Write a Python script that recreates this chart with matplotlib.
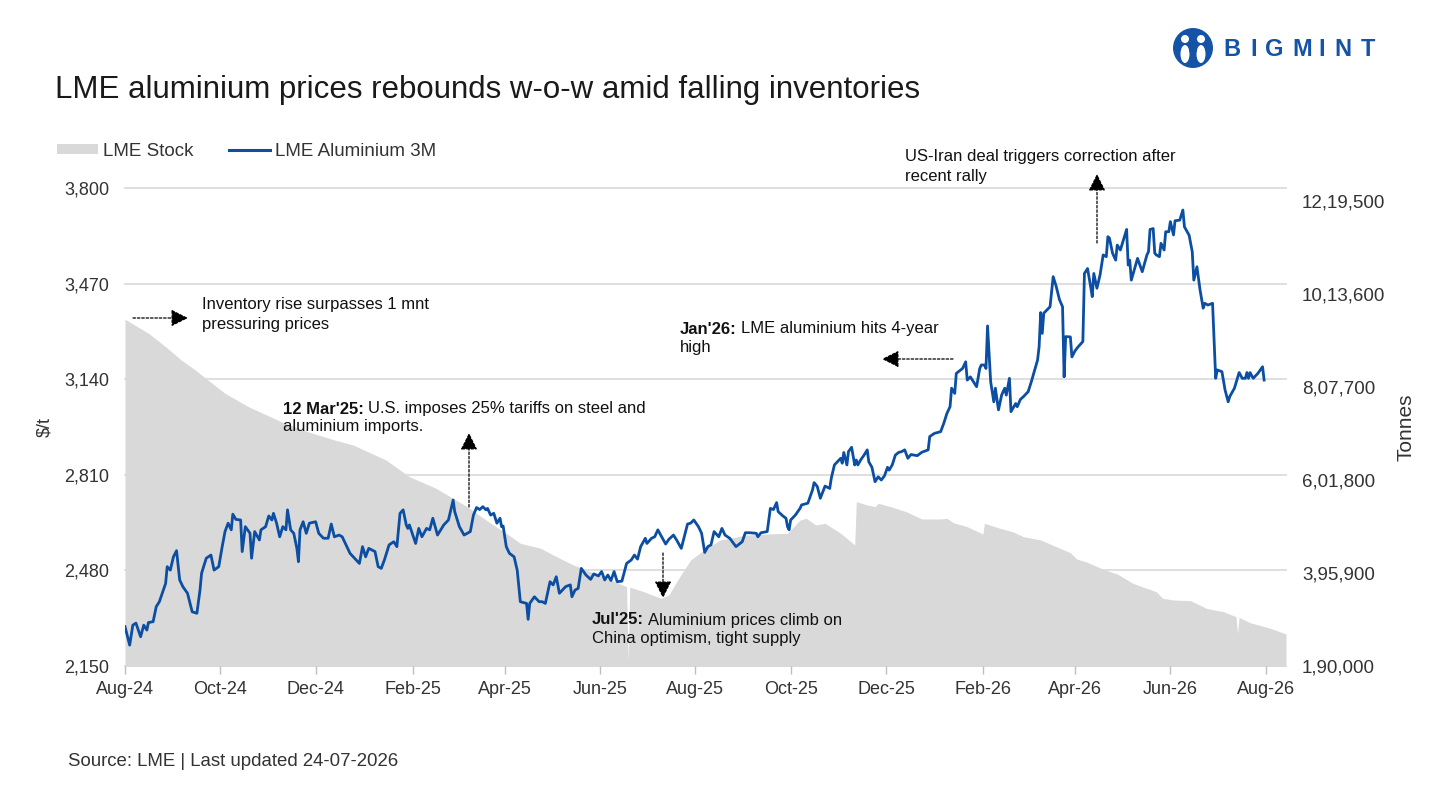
import matplotlib
matplotlib.use("Agg")
import matplotlib.pyplot as plt
import pandas as pd
from matplotlib.patches import Patch, Ellipse, FancyArrowPatch, Polygon
from matplotlib.lines import Line2D
from matplotlib.transforms import blended_transform_factory

plt.rcParams['font.family'] = ['Liberation Sans', 'DejaVu Sans']

# ---------------- data ----------------
price_dates = [
    "2024-08-01", "2024-08-04", "2024-08-06", "2024-08-08", "2024-08-11", "2024-08-13", "2024-08-15", "2024-08-16",
    "2024-08-19", "2024-08-21", "2024-08-23", "2024-08-27", "2024-08-28", "2024-08-30", "2024-09-01", "2024-09-03",
    "2024-09-05", "2024-09-07", "2024-09-10", "2024-09-13", "2024-09-16", "2024-09-18", "2024-09-19", "2024-09-22",
    "2024-09-25", "2024-09-27", "2024-09-30", "2024-10-02", "2024-10-04", "2024-10-06", "2024-10-08", "2024-10-09",
    "2024-10-11", "2024-10-14", "2024-10-15", "2024-10-17", "2024-10-20", "2024-10-21", "2024-10-23", "2024-10-26",
    "2024-10-27", "2024-10-30", "2024-11-01", "2024-11-03", "2024-11-04", "2024-11-06", "2024-11-08", "2024-11-10",
    "2024-11-12", "2024-11-13", "2024-11-15", "2024-11-17", "2024-11-19", "2024-11-20", "2024-11-21", "2024-11-23",
    "2024-11-25", "2024-11-27", "2024-12-01", "2024-12-03", "2024-12-06", "2024-12-09", "2024-12-11", "2024-12-13",
    "2024-12-16", "2024-12-18", "2024-12-23", "2024-12-29", "2024-12-31", "2025-01-02", "2025-01-04", "2025-01-08",
    "2025-01-10", "2025-01-12", "2025-01-14", "2025-01-17", "2025-01-20", "2025-01-22", "2025-01-24", "2025-01-26",
    "2025-01-28", "2025-01-29", "2025-01-30", "2025-02-03", "2025-02-05", "2025-02-07", "2025-02-10", "2025-02-12",
    "2025-02-14", "2025-02-17", "2025-02-21", "2025-02-24", "2025-02-27", "2025-02-28", "2025-03-03", "2025-03-06",
    "2025-03-10", "2025-03-12", "2025-03-14", "2025-03-16", "2025-03-18", "2025-03-20", "2025-03-21", "2025-03-23",
    "2025-03-25", "2025-03-27", "2025-03-29", "2025-03-30", "2025-03-31", "2025-04-02", "2025-04-04", "2025-04-07",
    "2025-04-09", "2025-04-11", "2025-04-13", "2025-04-15", "2025-04-16", "2025-04-17", "2025-04-20", "2025-04-23",
    "2025-04-25", "2025-04-27", "2025-04-30", "2025-05-02", "2025-05-04", "2025-05-06", "2025-05-10", "2025-05-13",
    "2025-05-14", "2025-05-16", "2025-05-18", "2025-05-20", "2025-05-23", "2025-05-26", "2025-05-28", "2025-05-31",
    "2025-06-02", "2025-06-04", "2025-06-06", "2025-06-08", "2025-06-10", "2025-06-12", "2025-06-15", "2025-06-18",
    "2025-06-21", "2025-06-23", "2025-06-25", "2025-06-27", "2025-06-30", "2025-07-01", "2025-07-04", "2025-07-06",
    "2025-07-08", "2025-07-11", "2025-07-13", "2025-07-15", "2025-07-18", "2025-07-20", "2025-07-23", "2025-07-27",
    "2025-07-29", "2025-07-31", "2025-08-03", "2025-08-05", "2025-08-07", "2025-08-09", "2025-08-11", "2025-08-13",
    "2025-08-16", "2025-08-18", "2025-08-20", "2025-08-23", "2025-08-27", "2025-08-31", "2025-09-02", "2025-09-05",
    "2025-09-09", "2025-09-10", "2025-09-12", "2025-09-16", "2025-09-18", "2025-09-20", "2025-09-22", "2025-09-23",
    "2025-09-26", "2025-09-28", "2025-09-29", "2025-09-30", "2025-10-01", "2025-10-04", "2025-10-07", "2025-10-08",
    "2025-10-12", "2025-10-15", "2025-10-16", "2025-10-18", "2025-10-20", "2025-10-23", "2025-10-26", "2025-10-27",
    "2025-10-29", "2025-11-02", "2025-11-03", "2025-11-04", "2025-11-06", "2025-11-07", "2025-11-09", "2025-11-11",
    "2025-11-12", "2025-11-13", "2025-11-15", "2025-11-17", "2025-11-19", "2025-11-20", "2025-11-22", "2025-11-24",
    "2025-11-26", "2025-11-28", "2025-11-30", "2025-12-02", "2025-12-03", "2025-12-05", "2025-12-07", "2025-12-09",
    "2025-12-11", "2025-12-13", "2025-12-15", "2025-12-17", "2025-12-21", "2025-12-24", "2025-12-28", "2025-12-29",
    "2026-01-01", "2026-01-05", "2026-01-07", "2026-01-09", "2026-01-11", "2026-01-12", "2026-01-14", "2026-01-15",
    "2026-01-19", "2026-01-21", "2026-01-22", "2026-01-24", "2026-01-26", "2026-01-28", "2026-01-30", "2026-01-31",
    "2026-02-02", "2026-02-03", "2026-02-04", "2026-02-06", "2026-02-08", "2026-02-09", "2026-02-11", "2026-02-13",
    "2026-02-15", "2026-02-16", "2026-02-18", "2026-02-19", "2026-02-22", "2026-02-23", "2026-02-25", "2026-02-27",
    "2026-03-02", "2026-03-04", "2026-03-08", "2026-03-09", "2026-03-10", "2026-03-11", "2026-03-12", "2026-03-14",
    "2026-03-16", "2026-03-18", "2026-03-20", "2026-03-22", "2026-03-24", "2026-03-25", "2026-03-26", "2026-03-29",
    "2026-03-30", "2026-04-01", "2026-04-03", "2026-04-06", "2026-04-07", "2026-04-09", "2026-04-11", "2026-04-12",
    "2026-04-13", "2026-04-15", "2026-04-17", "2026-04-19", "2026-04-21", "2026-04-22", "2026-04-23", "2026-04-25",
    "2026-04-27", "2026-04-28", "2026-04-30", "2026-05-04", "2026-05-05", "2026-05-06", "2026-05-07", "2026-05-11",
    "2026-05-14", "2026-05-17", "2026-05-18", "2026-05-19", "2026-05-21", "2026-05-22", "2026-05-23", "2026-05-25",
    "2026-05-26", "2026-05-28", "2026-05-29", "2026-05-31", "2026-06-01", "2026-06-03", "2026-06-04", "2026-06-07",
    "2026-06-09", "2026-06-10", "2026-06-13", "2026-06-15", "2026-06-16", "2026-06-18", "2026-06-20", "2026-06-22",
    "2026-06-23", "2026-06-25", "2026-06-28", "2026-06-30", "2026-07-01", "2026-07-04", "2026-07-06", "2026-07-08",
    "2026-07-09", "2026-07-12", "2026-07-15", "2026-07-17", "2026-07-19", "2026-07-20", "2026-07-21", "2026-07-22",
    "2026-07-24", "2026-07-27", "2026-07-30", "2026-07-31",
]
price_values = [
    2286, 2222, 2291, 2298, 2251, 2291, 2274, 2300,
    2303, 2355, 2372, 2435, 2493, 2481, 2527, 2548,
    2447, 2424, 2401, 2337, 2332, 2412, 2470, 2522,
    2533, 2481, 2493, 2556, 2614, 2643, 2620, 2674,
    2656, 2654, 2545, 2631, 2608, 2522, 2614, 2585,
    2620, 2631, 2668, 2654, 2677, 2643, 2596, 2631,
    2620, 2689, 2620, 2608, 2556, 2510, 2620, 2648,
    2608, 2643, 2648, 2608, 2591, 2591, 2640, 2596,
    2602, 2596, 2539, 2504, 2562, 2527, 2556, 2545,
    2493, 2487, 2516, 2568, 2579, 2562, 2677, 2689,
    2637, 2625, 2637, 2573, 2625, 2596, 2625, 2620,
    2660, 2602, 2637, 2654, 2723, 2683, 2631, 2602,
    2614, 2671, 2697, 2690, 2700, 2689, 2694, 2671,
    2677, 2643, 2660, 2631, 2633, 2562, 2539, 2527,
    2481, 2372, 2369, 2366, 2311, 2366, 2389, 2372,
    2372, 2366, 2441, 2430, 2458, 2401, 2424, 2430,
    2389, 2412, 2418, 2487, 2464, 2449, 2468, 2461,
    2476, 2447, 2464, 2445, 2476, 2441, 2443, 2504,
    2516, 2533, 2519, 2562, 2591, 2573, 2591, 2596,
    2620, 2591, 2571, 2587, 2602, 2585, 2556, 2640,
    2643, 2654, 2631, 2608, 2542, 2562, 2568, 2614,
    2596, 2625, 2602, 2591, 2562, 2579, 2610, 2610,
    2608, 2596, 2610, 2614, 2694, 2690, 2714, 2683,
    2668, 2660, 2631, 2620, 2654, 2671, 2694, 2706,
    2712, 2758, 2783, 2770, 2729, 2771, 2763, 2798,
    2844, 2867, 2850, 2887, 2844, 2890, 2905, 2844,
    2861, 2844, 2863, 2878, 2896, 2855, 2836, 2786,
    2803, 2792, 2806, 2836, 2826, 2844, 2878, 2887,
    2890, 2896, 2867, 2880, 2876, 2888, 2896, 2942,
    2953, 2959, 2988, 3022, 3045, 3109, 3091, 3160,
    3177, 3200, 3137, 3148, 3131, 3114, 3177, 3189,
    3189, 3177, 3324, 3131, 3062, 3109, 3034, 3085,
    3109, 3085, 3143, 3028, 3056, 3045, 3070, 3080,
    3097, 3131, 3206, 3252, 3370, 3298, 3368, 3379,
    3390, 3494, 3459, 3415, 3390, 3148, 3287, 3286,
    3217, 3238, 3252, 3270, 3505, 3522, 3459, 3425,
    3505, 3454, 3500, 3569, 3563, 3632, 3627, 3575,
    3551, 3603, 3586, 3657, 3534, 3551, 3482, 3557,
    3511, 3569, 3580, 3657, 3660, 3575, 3569, 3563,
    3609, 3586, 3649, 3649, 3684, 3638, 3687, 3689,
    3724, 3666, 3637, 3580, 3482, 3528, 3448, 3385,
    3402, 3396, 3402, 3143, 3172, 3166, 3103, 3062,
    3080, 3109, 3163, 3143, 3143, 3163, 3143, 3163,
    3143, 3160, 3183, 3137,
]

stock_dates = [
    "2024-08-01", "2024-08-16", "2024-08-27", "2024-09-06", "2024-09-15", "2024-09-23", "2024-10-04", "2024-10-19",
    "2024-11-09", "2024-11-26", "2024-12-13", "2024-12-25", "2025-01-15", "2025-01-30", "2025-02-16", "2025-03-08",
    "2025-03-20", "2025-04-02", "2025-04-11", "2025-04-24", "2025-05-02", "2025-05-15", "2025-06-03", "2025-06-18",
    "2025-06-19", "2025-06-20", "2025-06-29", "2025-07-10", "2025-07-15", "2025-07-22", "2025-07-29", "2025-08-08",
    "2025-08-17", "2025-09-03", "2025-09-16", "2025-09-29", "2025-10-07", "2025-10-11", "2025-10-17", "2025-10-23",
    "2025-11-02", "2025-11-11", "2025-11-12", "2025-11-19", "2025-11-24", "2025-11-26", "2025-12-04", "2025-12-14",
    "2025-12-24", "2026-01-05", "2026-01-09", "2026-01-13", "2026-01-22", "2026-02-01", "2026-02-02", "2026-02-12",
    "2026-02-20", "2026-02-27", "2026-03-10", "2026-03-20", "2026-03-29", "2026-04-02", "2026-04-08", "2026-04-19",
    "2026-04-28", "2026-05-08", "2026-05-15", "2026-05-23", "2026-05-27", "2026-06-03", "2026-06-14", "2026-06-24",
    "2026-07-05", "2026-07-13", "2026-07-14", "2026-07-15", "2026-07-22", "2026-08-04", "2026-08-14",
]
stock_values = [
    957600, 926600, 896900, 867500, 845300, 823200, 793800, 764100,
    730900, 708700, 690400, 679300, 646100, 609100, 583400, 542700,
    513200, 483800, 461700, 450600, 435800, 413600, 387700, 365600,
    200000, 364800, 354500, 339900, 347200, 387700, 424700, 450600,
    469000, 480000, 482200, 483800, 513200, 517000, 502200, 505900,
    483800, 457900, 553800, 546500, 542700, 550200, 542700, 531600,
    515500, 515500, 517000, 507300, 498400, 482200, 505900, 494900,
    487300, 476300, 469000, 454100, 440800, 426900, 420900, 404100,
    393700, 373100, 364200, 354500, 339900, 336100, 334600, 317700,
    310200, 299200, 262400, 297800, 285900, 273500, 260800,
]

price_ticks = [2150, 2480, 2810, 3140, 3470, 3800]
stock_ticks = [190000, 395900, 601800, 807700, 1013600, 1219500]
stock_tick_labels = ["1,90,000", "3,95,900", "6,01,800", "8,07,700", "10,13,600", "12,19,500"]
x_tick_dates = ["2024-08-01", "2024-10-01", "2024-12-01", "2025-02-01", "2025-04-01", "2025-06-01", "2025-08-01",
                "2025-10-01", "2025-12-01", "2026-02-01", "2026-04-01", "2026-06-01", "2026-08-01"]
x_tick_labels = ["Aug-24", "Oct-24", "Dec-24", "Feb-25", "Apr-25", "Jun-25", "Aug-25",
                 "Oct-25", "Dec-25", "Feb-26", "Apr-26", "Jun-26", "Aug-26"]

# ---------------- styling ----------------
W, H = 1441, 794
BLUE = "#0b4ea2"
GREY_FILL = "#d9d9d9"
GRID = "#d9d9d9"
TXT = "#333333"


def fx(px):
    return px / W


def fy(py):
    return 1 - py / H


fig = plt.figure(figsize=(W / 100, H / 100), dpi=100)
fig.patch.set_facecolor("white")

ax_stock = fig.add_axes([fx(125), fy(666), fx(1286) - fx(125), fy(188) - fy(666)])
ax_price = ax_stock.twinx()

pd_price = pd.to_datetime(price_dates)
pd_stock = pd.to_datetime(stock_dates)

ax_stock.fill_between(pd_stock, stock_values, 0, color=GREY_FILL, linewidth=0, zorder=1)
ax_price.plot(pd_price, price_values, color=BLUE, linewidth=2.0, solid_joinstyle="round", zorder=3)

ax_stock.set_xlim(pd.Timestamp("2024-08-01"), pd.Timestamp("2026-08-14"))
ax_stock.set_ylim(190000, 1248300)
ax_price.set_ylim(2150, 3800)

# gridlines at price ticks, drawn behind the stock area
tr = blended_transform_factory(ax_stock.transAxes, ax_price.transData)
for v in price_ticks:
    ax_stock.plot([0, 1], [v, v], transform=tr, color=GRID, linewidth=1.2, zorder=0.5, clip_on=False)

for a in (ax_stock, ax_price):
    for s in a.spines.values():
        s.set_visible(False)

ax_stock.set_xticks(pd.to_datetime(x_tick_dates))
ax_stock.set_xticklabels(x_tick_labels)
ax_stock.tick_params(axis="x", length=6, width=1, color="#bfbfbf", labelsize=13, labelcolor=TXT, pad=5)

ax_stock.yaxis.tick_right()
ax_stock.yaxis.set_label_position("right")
ax_stock.set_yticks(stock_ticks)
ax_stock.set_yticklabels(stock_tick_labels)
ax_stock.tick_params(axis="y", length=0, labelsize=13.5, labelcolor=TXT, pad=11.5)
ax_stock.set_ylabel("Tonnes", fontsize=15, color=TXT)
ax_stock.yaxis.set_label_coords((1397 - 125) / 1161, 0.5)

ax_price.yaxis.tick_left()
ax_price.yaxis.set_label_position("left")
ax_price.set_yticks(price_ticks)
ax_price.set_yticklabels([f"{v:,}" for v in price_ticks])
ax_price.tick_params(axis="y", length=0, labelsize=13, labelcolor=TXT, pad=11.5)
ax_price.set_ylabel(r"\$/t", fontsize=13, color=TXT)
ax_price.yaxis.set_label_coords((53 - 125) / 1161, 0.5)

# ---------------- title, legend, footer ----------------
fig.text(fx(55), fy(90), "LME aluminium prices rebounds w-o-w amid falling inventories",
         fontsize=22.5, color="#1a1a1a", ha="left", va="center")

handles = [Patch(facecolor=GREY_FILL, edgecolor="none"), Line2D([], [], color=BLUE, linewidth=2.2)]
fig.legend(handles, ["LME Stock", "LME Aluminium 3M"], loc="center left",
           bbox_to_anchor=(fx(57), fy(151)), ncol=2, frameon=False, fontsize=13.5,
           handlelength=2.2, handleheight=0.5, handletextpad=0.25, columnspacing=1.9,
           borderpad=0, borderaxespad=0, labelcolor=TXT)

fig.text(fx(68), fy(761), "Source: LME | Last updated 24-07-2026", fontsize=13.4, color=TXT,
         ha="left", va="center")

# ---------------- logo ----------------
LOGO = "#1553a6"
fig.add_artist(Ellipse((fx(1193), fy(48)), 40 / W, 40 / H, transform=fig.transFigure, facecolor=LOGO,
                       edgecolor="none"))
for hx in (1185, 1201):
    fig.add_artist(Ellipse((fx(hx), fy(39)), 8 / W, 8 / H, transform=fig.transFigure,
                           facecolor="white", edgecolor="none"))
    fig.add_artist(Ellipse((fx(hx), fy(54)), 9 / W, 18 / H, transform=fig.transFigure,
                           facecolor="white", edgecolor="none"))
fig.add_artist(Polygon([(fx(1189), fy(50)), (fx(1197), fy(50)), (fx(1193), fy(64))], closed=True,
                       transform=fig.transFigure, facecolor=LOGO, edgecolor="none"))
for ch, cx in zip("BIGMINT", (1232, 1254, 1274, 1302, 1322, 1343, 1368)):
    fig.text(fx(cx), fy(50), ch, fontsize=17, fontweight="bold", color=LOGO, ha="center", va="center")

# ---------------- annotations ----------------
AFS = 12


def note(x, y, text, bold=None):
    if bold:
        t = fig.text(fx(x), fy(y), bold, fontsize=AFS, fontweight="bold", color="#111111",
                     ha="left", va="center")
        ax_stock.annotate(text, xy=(1, 0.5), xycoords=t, xytext=(3, 0), textcoords="offset points",
                          fontsize=AFS, color="#111111", ha="left", va="center", annotation_clip=False)
    else:
        fig.text(fx(x), fy(y), text, fontsize=AFS, color="#111111", ha="left", va="center")


def arrow(x1, y1, x2, y2):
    fig.add_artist(FancyArrowPatch((fx(x1), fy(y1)), (fx(x2), fy(y2)), transform=fig.transFigure,
                                   arrowstyle="-|>,head_length=0.8,head_width=0.4", mutation_scale=13,
                                   linestyle=(0, (2, 1.5)), linewidth=0.9, color="black",
                                   shrinkA=0, shrinkB=0))


note(202, 305, "Inventory rise surpasses 1 mnt")
note(202, 324, "pressuring prices")
arrow(133, 318, 188, 318)

note(283, 409, "U.S. imposes 25% tariffs on steel and", bold="12 Mar'25:")
note(283, 427, "aluminium imports.")
arrow(469, 507, 469, 433)

note(680, 329, "LME aluminium hits 4-year", bold="Jan'26:")
note(680, 348, "high")
arrow(953, 359, 882, 359)

note(905, 157, "US-Iran deal triggers correction after")
note(905, 176, "recent rally")
arrow(1097, 243, 1097, 174)

note(592, 620, "Aluminium prices climb on", bold="Jul'25:")
note(592, 638, "China optimism, tight supply")
arrow(663, 553, 663, 598)

fig.savefig("out.png", dpi=100, facecolor="white")
